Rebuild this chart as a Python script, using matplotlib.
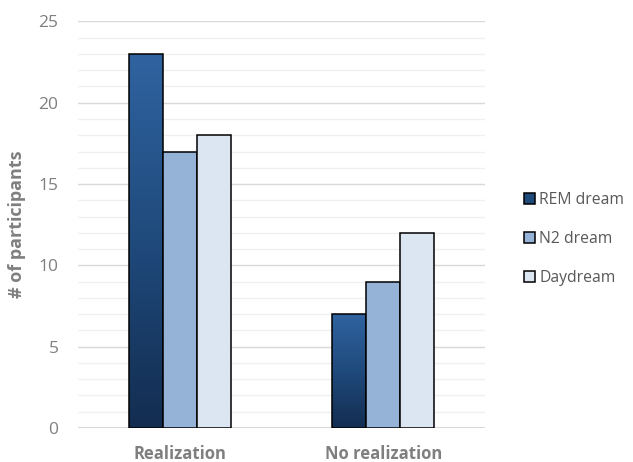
import numpy as np
import matplotlib as mpl
import matplotlib.pyplot as plt
from matplotlib.colors import LinearSegmentedColormap
from matplotlib.ticker import MultipleLocator

categories = ['Realization', 'No realization']
series_names = ['REM dream', 'N2 dream', 'Daydream']
rem_dream = [23, 7]
n2_dream = [17, 9]
daydream = [18, 12]

mpl.rcParams['font.family'] = ['Open Sans', 'DejaVu Sans']
grey = '#7f7f7f'

fig = plt.figure(figsize=(6.33, 4.62), dpi=100)
ax = fig.add_axes([0.1232, 0.0736, 0.643, 0.88])

x = np.arange(len(categories))
w = 0.167
fills = ['#1f4a7c', '#95b3d7', '#dce6f2']
all_bars = []
for i, (vals, c) in enumerate(zip([rem_dream, n2_dream, daydream], fills)):
    bars = ax.bar(x + (i - 1) * w, vals, w, color=c, edgecolor='black',
                  linewidth=1.1, label=series_names[i], zorder=3)
    all_bars.append(bars)

# gradient fill for the REM dream bars
cmap = LinearSegmentedColormap.from_list('rem', ['#132d50', '#1f4a7c', '#3063a0'])
grad = np.linspace(0, 1, 256).reshape(-1, 1)
for b in all_bars[0]:
    b.set_facecolor('none')
    x0, y0 = b.get_x(), b.get_y()
    im = ax.imshow(grad, cmap=cmap, origin='lower', aspect='auto',
                   extent=[x0, x0 + b.get_width(), y0, y0 + b.get_height()],
                   zorder=2.5)
    im.set_clip_path(b)

ax.set_xlim(-0.5, 1.5)
ax.set_ylim(0, 25)
ax.yaxis.set_major_locator(MultipleLocator(5))
ax.yaxis.set_minor_locator(MultipleLocator(1))
ax.grid(which='major', axis='y', color='#d9d9d9', linewidth=1.0, zorder=0)
ax.grid(which='minor', axis='y', color='#f0f0f0', linewidth=1.0, zorder=0)
ax.axhline(0, color='#d9d9d9', linewidth=1.5, zorder=1)
for s in ax.spines.values():
    s.set_visible(False)
ax.tick_params(axis='both', which='both', length=0, colors=grey, labelsize=12.5)
ax.tick_params(axis='y', pad=14)
ax.tick_params(axis='x', pad=12)
ax.set_xticks(x)
ax.set_xticklabels(categories, fontweight='bold', fontsize=12)
ax.set_ylabel('# of participants', fontsize=13, fontweight='bold', color=grey, labelpad=9)

fig.legend(handles=[b[0] for b in all_bars], labels=series_names,
           loc='center left', bbox_to_anchor=(0.805, 0.483), frameon=False,
           fontsize=11.3, labelcolor='#595959', handlelength=0.7, handleheight=0.7,
           handletextpad=0.3, labelspacing=1.45)
# legend swatch for gradient series
fig.legends[0].legend_handles[0].set_facecolor('#1f4a7c')

fig.savefig('out.png', dpi=100)
